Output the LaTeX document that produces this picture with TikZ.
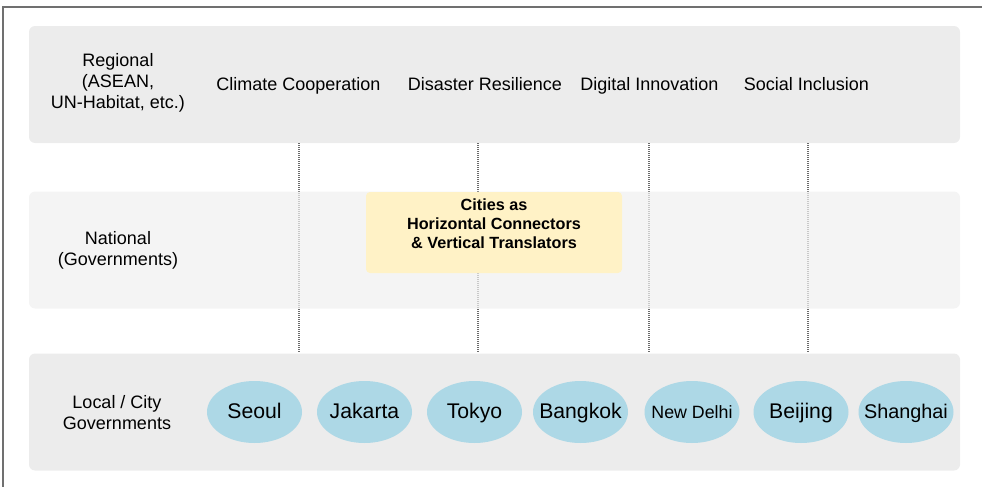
\documentclass[tikz,border=0pt]{standalone}
\usepackage{fontspec}
\setmainfont{Liberation Sans}
\usetikzlibrary{shapes.geometric}

\definecolor{bandgray}{HTML}{ECECEC}
\definecolor{natgray}{HTML}{F0F0F0}
\definecolor{hubyellow}{HTML}{FFF2C6}
\definecolor{cityblue}{HTML}{ADD8E6}
\definecolor{framegray}{HTML}{707070}
\definecolor{linkgray}{HTML}{6A6A6A}

\tikzset{
    band/.style={fill=bandgray, rounded corners=3pt, minimum width=465.5pt, minimum height=58.5pt, inner sep=0pt},
    tier/.style={align=center, font=\fontsize{9}{10.5}\selectfont},
    theme/.style={font=\fontsize{9}{10.5}\selectfont, text height=0.72em, text depth=0.21em},
    link/.style={linkgray, line width=1pt, dash pattern=on 0.5pt off 0.5pt},
    city/.style={ellipse, fill=cityblue, minimum width=47.5pt, minimum height=31pt, inner sep=-8pt, text height=0.72em, text depth=0.05em},
}

\begin{document}
\begin{tikzpicture}[x=0.5pt,y=-0.5pt]
        \useasboundingbox (0,0) rectangle (982,487);
        \draw[framegray, line width=1pt] (3,487) -- (3,7) -- (982,7);

        % regional and local tiers
        \node[band] (regional) at (494.5,84.5) {};
        \node[band] (local) at (494.5,412) {};
        \node[tier] (regionaltxt) at (118,83) {Regional\\(ASEAN,\\UN-Habitat, etc.)};
        \node[theme] (climate) at (298.5,85) {Climate Cooperation};
        \node[theme] (disaster) at (485,85) {Disaster Resilience};
        \node[theme] (digital) at (649.5,85) {Digital Innovation};
        \node[theme] (social) at (806.5,85) {Social Inclusion};

        % dotted links running down through the national tier
        \foreach \t/\dx in {climate/0pt, disaster/-3.5pt, digital/-0.5pt, social/0.5pt}
            \draw[link] ([xshift=\dx]regional.south -| \t) -- ([xshift=\dx]local.north -| \t);

        \node[band, fill=natgray, fill opacity=0.7] (national) at (494.5,250) {};
        \node[tier] (nationaltxt) at (118,250) {National\\(Governments)};

        \node[fill=hubyellow, rounded corners=2pt, minimum width=128pt, minimum height=40.5pt] (hub) at (494,232.5) {};
        \node[anchor=north, align=center, font=\bfseries\fontsize{8.1}{9.5}\selectfont] (hubtxt) at (hub.north) {Cities as\\Horizontal Connectors\\\& Vertical Translators};

        \node[tier] (localtxt) at (117,413) {Local / City\\Governments};
        \foreach \name/\city/\x/\fs in {seoul/Seoul/254.5/10.6, jakarta/Jakarta/364.5/10.6, tokyo/Tokyo/474.5/10.6, bangkok/Bangkok/580.5/10.6, newdelhi/New Delhi/692/8.9, beijing/Beijing/801/10.6, shanghai/Shanghai/906/9.9}
            \node[city, font=\fontsize{\fs}{12}\selectfont] (\name) at (\x,412) {\city};

    \end{tikzpicture}
\end{document}
